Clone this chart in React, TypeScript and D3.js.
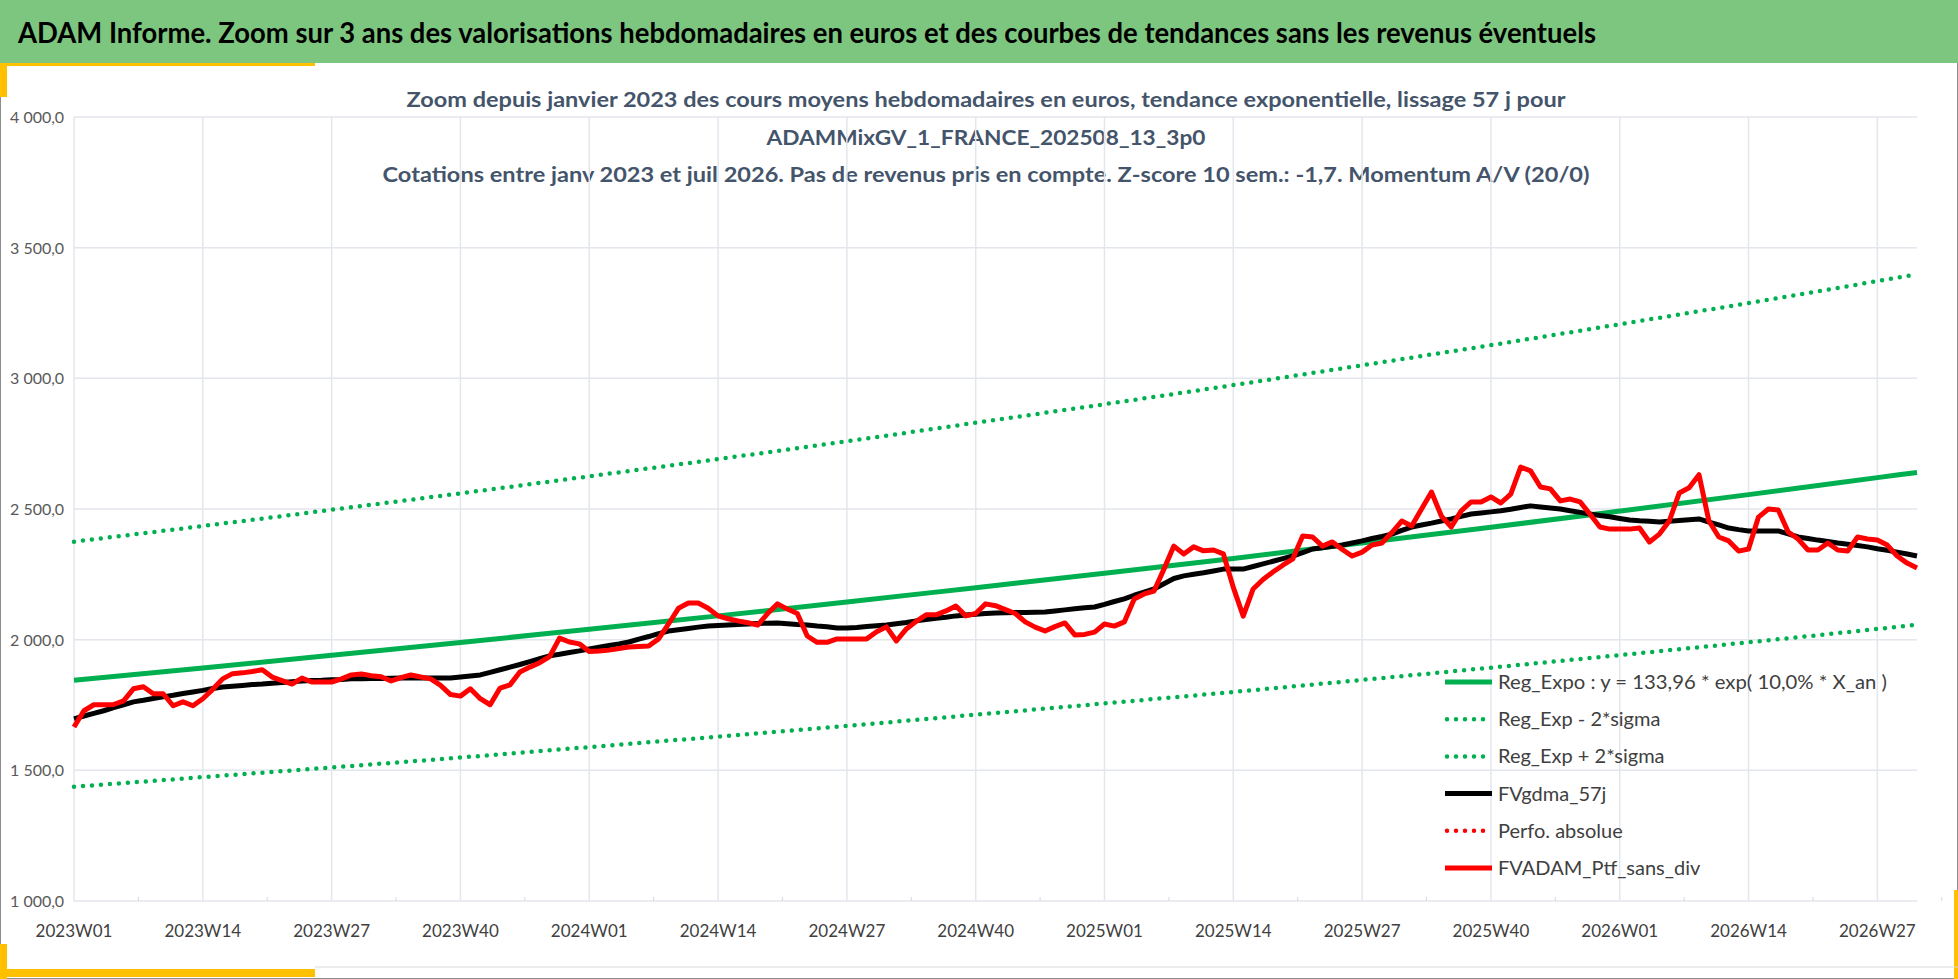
import { line as d3Line, curveMonotoneX, scaleLinear } from "d3";

const TITLE =
  "ADAM Informe. Zoom sur 3 ans des valorisations hebdomadaires en euros et des courbes de tendances sans les revenus éventuels";
const SUBTITLE = [
  "Zoom depuis janvier 2023 des cours moyens hebdomadaires  en euros, tendance exponentielle, lissage 57 j pour",
  "ADAMMixGV_1_FRANCE_202508_13_3p0",
  "Cotations  entre janv 2023 et juil 2026. Pas de revenus pris en compte. Z-score 10 sem.: -1,7. Momentum A/V (20/0)",
];

const weekCount = 187;
const weeks: string[] = [];
for (let i = 0; i < weekCount; i++) {
  const y = 2023 + Math.floor(i / 52);
  const w = (i % 52) + 1;
  weeks.push(`${y}W${String(w).padStart(2, "0")}`);
}
const tickIdx = [0, 13, 26, 39, 52, 65, 78, 91, 104, 117, 130, 143, 156, 169, 182];
const yTicks = [1000, 1500, 2000, 2500, 3000, 3500, 4000];

const trendIdx = [0, 13, 26, 39, 52, 65, 78, 91, 104, 117, 130, 143, 156, 169, 182, 186];
const regExpo = [1845, 1892, 1940, 1989, 2040, 2091, 2144, 2199, 2254, 2311, 2370, 2430, 2492, 2555, 2620, 2640];
const regUpper = [2375, 2435, 2497, 2560, 2625, 2691, 2759, 2830, 2901, 2974, 3050, 3127, 3207, 3288, 3372, 3398];
const regLower = [1437, 1474, 1511, 1549, 1589, 1629, 1670, 1713, 1756, 1800, 1846, 1893, 1941, 1990, 2041, 2057];

const gdma57 = [
  1697, 1708, 1718, 1728, 1740, 1751, 1762, 1768, 1775, 1781,
  1787, 1794, 1800, 1806, 1813, 1819, 1822, 1825, 1828, 1830,
  1833, 1836, 1839, 1842, 1844, 1845, 1847, 1848, 1850, 1850,
  1851, 1851, 1852, 1853, 1853, 1853, 1853, 1853, 1853, 1857,
  1861, 1865, 1875, 1885, 1895, 1905, 1916, 1927, 1938, 1944,
  1951, 1957, 1964, 1971, 1978, 1984, 1991, 2002, 2012, 2023,
  2033, 2038, 2043, 2048, 2052, 2054, 2056, 2058, 2060, 2062,
  2063, 2064, 2061, 2058, 2056, 2052, 2049, 2045, 2045, 2047,
  2050, 2053, 2056, 2061, 2066, 2072, 2077, 2082, 2086, 2091,
  2094, 2097, 2100, 2102, 2103, 2104, 2104, 2105, 2106, 2110,
  2114, 2118, 2122, 2125, 2135, 2146, 2156, 2170, 2182, 2194,
  2214, 2234, 2244, 2250, 2256, 2263, 2270, 2270, 2270, 2280,
  2290, 2300, 2310, 2320, 2333, 2347, 2352, 2357, 2362, 2370,
  2378, 2387, 2395, 2404, 2418, 2431, 2439, 2446, 2454, 2462,
  2472, 2481, 2485, 2489, 2493, 2499, 2506, 2512, 2508, 2504,
  2500, 2493, 2487, 2481, 2475, 2470, 2464, 2458, 2455, 2453,
  2450, 2453, 2456, 2459, 2462, 2450, 2439, 2427, 2421, 2416,
  2416, 2416, 2416, 2405, 2393, 2387, 2381, 2376, 2370, 2365,
  2360, 2355, 2348, 2342, 2335, 2328, 2320,
];

const ptfSansDiv = [
  1666, 1728, 1751, 1751, 1752, 1766, 1812, 1820, 1793, 1793,
  1747, 1762, 1747, 1774, 1810, 1850, 1870, 1873, 1878, 1885,
  1857, 1843, 1830, 1853, 1838, 1838, 1838, 1850, 1865, 1869,
  1862, 1858, 1842, 1855, 1865, 1857, 1850, 1825, 1790, 1784,
  1812, 1774, 1751, 1815, 1827, 1876, 1895, 1912, 1935, 2006,
  1991, 1984, 1955, 1957, 1960, 1966, 1972, 1974, 1976, 2003,
  2060, 2120, 2140, 2140, 2120, 2091, 2080, 2072, 2065, 2056,
  2100, 2137, 2117, 2100, 2014, 1990, 1990, 2003, 2003, 2003,
  2003, 2030, 2049, 1995, 2041, 2070, 2095, 2095, 2110, 2129,
  2091, 2100, 2137, 2130, 2115, 2100, 2068, 2048, 2033, 2050,
  2064, 2018, 2020, 2029, 2060, 2052, 2068, 2156, 2175, 2186,
  2270, 2358, 2328, 2355, 2340, 2343, 2328, 2200, 2090, 2194,
  2230, 2259, 2285, 2309, 2397, 2393, 2358, 2374, 2345, 2320,
  2335, 2362, 2370, 2410, 2454, 2435, 2500, 2565, 2473, 2431,
  2493, 2527, 2527, 2546, 2523, 2557, 2660, 2646, 2584, 2577,
  2531, 2538, 2527, 2480, 2431, 2423, 2423, 2423, 2427, 2374,
  2404, 2454, 2561, 2581, 2631, 2454, 2393, 2378, 2339, 2347,
  2469, 2500, 2496, 2412, 2385, 2343, 2343, 2370, 2343, 2339,
  2393, 2385, 2381, 2362, 2320, 2293, 2274,
];

const legendItems = [
  { label: "Reg_Expo : y = 133,96 * exp( 10,0% *  X_an )", color: "#00B050", dotted: false },
  { label: "Reg_Exp - 2*sigma", color: "#00B050", dotted: true },
  { label: "Reg_Exp + 2*sigma", color: "#00B050", dotted: true },
  { label: "FVgdma_57j", color: "#000000", dotted: false },
  { label: "Perfo. absolue", color: "#FF0000", dotted: true },
  { label: "FVADAM_Ptf_sans_div", color: "#FF0000", dotted: false },
];

const W = 1958;
const H = 979;
const FONT = "Lato, 'Open Sans', sans-serif";

export default function App() {
  const x = scaleLinear().domain([0, weekCount - 1]).range([74, 1917]);
  const y = scaleLinear().domain([1000, 4000]).range([901, 117]);

  const weekLine = d3Line<number>()
    .x((_, i) => x(i))
    .y((d) => y(d));
  const trendLine = d3Line<number>()
    .x((_, i) => x(trendIdx[i]))
    .y((d) => y(d))
    .curve(curveMonotoneX);

  const dotted = { strokeDasharray: "0 9", strokeLinecap: "round" as const, strokeWidth: 4.5 };

  return (
    <svg
      width={W}
      height={H}
      viewBox={`0 0 ${W} ${H}`}
      style={{ position: "absolute", left: 0, top: 0, background: "#fff" }}
      fontFamily={FONT}
    >
      <rect x={0.5} y={0.5} width={W - 1} height={H - 1} fill="#fff" stroke="#8c8c8c" />
      <rect x={0} y={0} width={W} height={63} fill="#7DC67F" />
      <text x={18} y={43} fontSize={28} fontWeight="bold" fill="#000" textLength={1578} lengthAdjust="spacingAndGlyphs">
        {TITLE}
      </text>
      {/* yellow accents */}
      <rect x={0} y={63} width={315} height={3} fill="#FFC000" />
      <rect x={0} y={63} width={7} height={34} fill="#FFC000" />
      <rect x={0} y={944} width={7} height={35} fill="#FFC000" />
      <rect x={0} y={969} width={315} height={8} fill="#FFC000" />
      <rect x={1954} y={890} width={4} height={89} fill="#FFC000" />
      <line x1={315} x2={W} y1={967} y2={967} stroke="#d9d9d9" />

      {SUBTITLE.map((t, i) => (
        <text
          key={i}
          x={986}
          y={[107, 145, 182][i]}
          textAnchor="middle"
          fontSize={20}
          fontWeight="bold"
          fill="#44546A"
          textLength={[1159, 439, 1207][i]}
          lengthAdjust="spacingAndGlyphs"
        >
          {t}
        </text>
      ))}

      {/* grid */}
      {yTicks.map((v) => (
        <g key={v}>
          <line x1={74} x2={1917} y1={y(v)} y2={y(v)} stroke="#e3e6ec" strokeWidth={1.5} />
          <text x={10} y={y(v) + 6} fontSize={16} fill="#595959">
            {v.toLocaleString("fr-FR", { minimumFractionDigits: 1 }).replace(/\u202f|\u00a0/g, " ")}
          </text>
        </g>
      ))}
      {tickIdx.map((i) => (
        <g key={i}>
          <line x1={x(i)} x2={x(i)} y1={y(4000)} y2={y(1000)} stroke="#e3e6ec" strokeWidth={1.5} />
          <line x1={x(i + 6.5)} x2={x(i + 6.5)} y1={y(1000)} y2={y(1000) - 4} stroke="#d9d9d9" />
          <text x={x(i)} y={937} textAnchor="middle" fontSize={17} fill="#404040">
            {weeks[i]}
          </text>
        </g>
      ))}

      {/* series */}
      <path d={trendLine(regUpper) ?? ""} fill="none" stroke="#00B050" {...dotted} />
      <path d={trendLine(regLower) ?? ""} fill="none" stroke="#00B050" {...dotted} />
      <path d={trendLine(regExpo) ?? ""} fill="none" stroke="#00B050" strokeWidth={5} />
      <path d={weekLine(gdma57) ?? ""} fill="none" stroke="#000" strokeWidth={5} strokeLinejoin="round" />
      <path d={weekLine(ptfSansDiv) ?? ""} fill="none" stroke="#FF0000" strokeWidth={5} strokeLinejoin="round" />

      {/* legend */}
      {legendItems.map((it, i) => {
        const ly = 682 + i * 37.2;
        return (
          <g key={it.label}>
            {it.dotted ? (
              <line x1={1447} x2={1491} y1={ly} y2={ly} stroke={it.color} {...dotted} />
            ) : (
              <line x1={1445} x2={1492} y1={ly} y2={ly} stroke={it.color} strokeWidth={5} />
            )}
            <text
              x={1498}
              y={ly + 7}
              fontSize={20}
              fill="#404040"
              textLength={i === 0 ? 389 : undefined}
              lengthAdjust="spacingAndGlyphs"
            >
              {it.label}
            </text>
          </g>
        );
      })}
    </svg>
  );
}
